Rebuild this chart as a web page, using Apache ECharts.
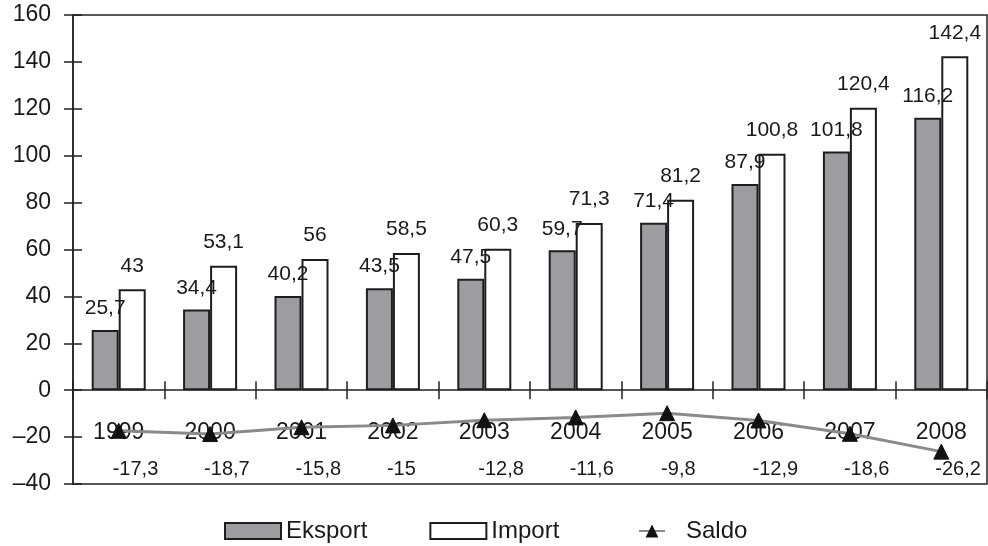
<!DOCTYPE html>
<html>
<head>
<meta charset="utf-8">
<script src="https://cdn.jsdelivr.net/npm/echarts@6/dist/echarts.min.js"></script>
<style>
html,body{margin:0;padding:0;background:#fff;}
#c{width:988px;height:546px;}
</style>
</head>
<body>
<div id="c"></div>
<script>
const years = ['1999','2000','2001','2002','2003','2004','2005','2006','2007','2008'];
const eksport = [25.7, 34.4, 40.2, 43.5, 47.5, 59.7, 71.4, 87.9, 101.8, 116.2];
const importVals = [43, 53.1, 56, 58.5, 60.3, 71.3, 81.2, 100.8, 120.4, 142.4];
const saldo = [-17.3, -18.7, -15.8, -15, -12.8, -11.6, -9.8, -12.9, -18.6, -26.2];
const yTicks = {min: -40, max: 160, interval: 20};

const FONT = '"Liberation Sans", Arial, sans-serif';
const TXT = '#1a1a1a';
const fmtNum = v => String(v).replace('.', ',');

const chart = echarts.init(document.getElementById('c'));
const gridLeft = 73, gridRight = 1;
const gridWidth = 988 - gridLeft - gridRight;

chart.setOption({
  animation: false,
  backgroundColor: '#fff',
  grid: {left: gridLeft, right: gridRight, top: 15, bottom: 62, show: true,
         borderColor: '#222', borderWidth: 1.5, backgroundColor: 'transparent'},
  xAxis: [{
    type: 'category', data: years, position: 'bottom',
    axisLine: {onZero: true, onZeroAxisIndex: 0, lineStyle: {color: '#222', width: 1.5}},
    axisTick: {show: true, inside: false, length: 9, lineStyle: {color: '#222', width: 1.5}},
    axisLabel: {margin: -63, fontSize: 23, color: TXT, fontFamily: FONT},
    splitLine: {show: false}
  }, {
    type: 'category', data: years, position: 'top',
    axisLine: {onZero: true, onZeroAxisIndex: 1, show: false},
    axisTick: {show: true, inside: false, length: 9, lineStyle: {color: '#222', width: 1.5}},
    axisLabel: {show: false},
    splitLine: {show: false}
  }],
  yAxis: [{
    type: 'value', min: yTicks.min, max: yTicks.max, interval: yTicks.interval,
    axisLine: {show: true, lineStyle: {color: '#222', width: 1.5}},
    axisTick: {show: true, inside: false, length: 9, lineStyle: {color: '#222', width: 1.5}},
    axisLabel: {margin: 22, fontSize: 23, color: TXT, fontFamily: FONT,
      formatter: v => v < 0 ? '\u2013' + Math.abs(v) : String(v)},
    splitLine: {show: false}
  }, {
    type: 'value', min: yTicks.min, max: yTicks.max, interval: yTicks.interval,
    position: 'right', offset: -gridWidth,
    axisLine: {show: false},
    axisTick: {show: true, inside: false, length: 9, lineStyle: {color: '#222', width: 1.5}},
    axisLabel: {show: false},
    splitLine: {show: false}
  }],
  legend: [{
    data: [{name: 'Eksport', icon: 'rect'}, {name: 'Import', icon: 'rect'}],
    left: 219, top: 514, itemWidth: 56, itemHeight: 16, itemGap: 62,
    textStyle: {fontSize: 24, color: TXT, fontFamily: FONT, lineHeight: 24}
  }, {
    data: ['Saldo'],
    left: 633, top: 514, itemWidth: 26, itemHeight: 16, itemGap: 20,
    textStyle: {fontSize: 24, color: TXT, fontFamily: FONT, lineHeight: 24, padding: [0,0,0,16]}
  }],
  series: [{
    name: 'Eksport', type: 'bar', data: eksport,
    barWidth: 27, barGap: '0%',
    itemStyle: {color: '#9d9da1', borderColor: '#1e1e1e', borderWidth: 2},
    label: {show: true, position: 'top', distance: 11, fontSize: 21, color: TXT, fontFamily: FONT,
      formatter: p => fmtNum(p.value)}
  }, {
    name: 'Import', type: 'bar', data: importVals,
    barWidth: 27, barGap: '0%',
    itemStyle: {color: '#ffffff', borderColor: '#1e1e1e', borderWidth: 2},
    label: {show: true, position: 'top', distance: 13, fontSize: 21, color: TXT, fontFamily: FONT,
      formatter: p => fmtNum(p.value)}
  }, {
    name: 'Saldo', type: 'line', data: saldo, z: 5,
    symbol: 'triangle', symbolSize: 15,
    lineStyle: {color: '#8a8a8a', width: 3},
    itemStyle: {color: '#111', borderColor: '#111'},
    label: {show: true, position: 'bottom', fontSize: 20, color: TXT, fontFamily: FONT,
      formatter: p => fmtNum(p.value)},
    labelLayout: p => ({x: p.rect.x + p.rect.width / 2 - 6, y: 469, align: 'left', verticalAlign: 'middle'})
  }]
});
</script>
</body>
</html>
